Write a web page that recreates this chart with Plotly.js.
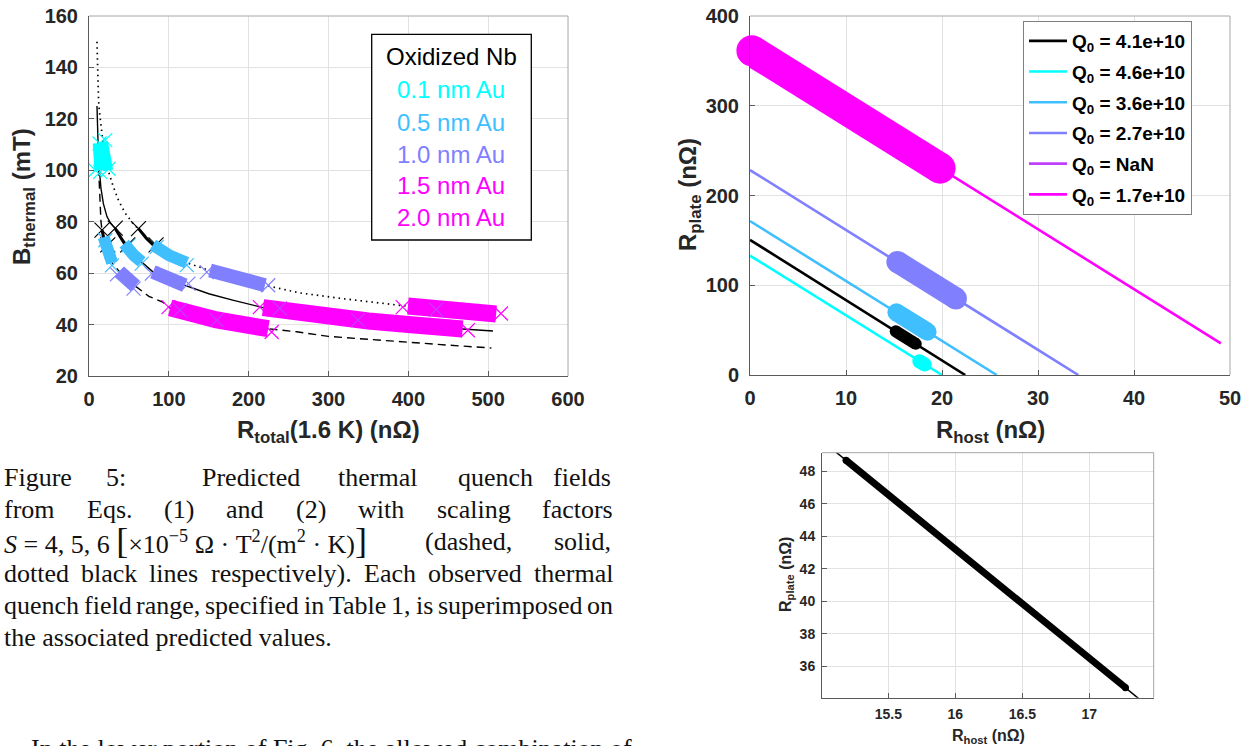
<!DOCTYPE html>
<html><head><meta charset="utf-8">
<script src="https://cdn.plot.ly/plotly-3.0.1.min.js"></script>
<style>html,body{margin:0;padding:0;background:#fff;}#chart{width:1246px;height:746px;}</style>
</head><body><div id="chart"></div>
<script>
const W = 1246, H = 746;
const PX = p => p / W, PY = p => 1 - p / H;
const SANS = 'Liberation Sans, Arial, Helvetica, sans-serif';
const SERIF = 'Liberation Serif, Times New Roman, serif';

// ---------- Left chart: predicted thermal quench field curves ----------
const dashedR = [12, 12.5, 13, 14, 15, 16.3, 18.3, 20, 22.5, 25, 29, 33, 37, 45, 58, 65, 75, 93, 101.6, 120, 160, 224.5, 260, 300, 350, 400, 450, 504];
const dashedB = [101, 96, 92, 86, 80, 76.7, 74, 72, 70.2, 67.5, 64, 62.5, 61, 58, 55, 53.3, 51, 48.6, 46.5, 44.5, 41.8, 38.4, 37.2, 35.4, 34.2, 33.2, 32, 30.9];
const solidR = [10, 10.5, 11, 12, 13, 15, 18, 22.5, 27, 32.9, 40, 47.5, 56, 66, 80, 100, 120, 150, 180, 218, 260, 300, 350, 400, 468, 506];
const solidB = [125, 116, 110, 104, 100, 93, 87, 82, 79.5, 77.3, 73.5, 70, 67, 64.4, 60.5, 57.5, 55.3, 52, 49.5, 46.6, 44.6, 43, 41.4, 40, 38.3, 37.5];
const dottedR = [10, 10.5, 11, 12, 13, 15, 17.5, 20, 24, 30, 37, 45, 55.8, 62, 72, 83, 100, 122.5, 151.6, 185, 220.4, 264, 320, 389, 450, 510];
const dottedB = [150, 140, 134, 127, 123, 117, 111, 106, 100, 94, 88.3, 83.5, 79, 77.3, 73.5, 70.2, 67, 64, 61, 58, 55.3, 52.3, 50, 47.5, 45.7, 44.1];

// Observed ranges superimposed on the curves
const cyanSolidR = [11, 12, 13], cyanSolidB = [110.5, 104, 100];
const cyanDotR = [17.5, 20, 24], cyanDotB = [111, 106, 100];
const oxDashR = [16.3, 18.3, 22.5], oxDashB = [76.7, 74, 70.2];
const oxSolidR = [32.9, 40, 47.5], oxSolidB = [77.3, 73.5, 70];
const oxDotR = [62, 72, 83], oxDotB = [77.3, 73.5, 70.2];
const lbDashR = [18.3, 20, 22.5, 25, 29], lbDashB = [74, 72, 70.2, 67.5, 64];
const lbSolidR = [44, 47.5, 56, 66], lbSolidB = [71.5, 70, 67, 64.4];
const lbDotR = [80, 83, 100, 122.5], lbDotB = [71, 70.2, 67, 64];
const periDashR = [38, 45, 58], periDashB = [60.5, 58, 55];
const periSolidR = [80, 100, 120], periSolidB = [60.5, 57.5, 55.3];
const periDotR = [151.6, 185, 220.4], periDotB = [61, 58, 55.3];
const magDashR = [101.6, 120, 160, 224.5], magDashB = [46.5, 44.5, 41.8, 38.4];
const magSolidR = [218, 260, 300, 350, 400, 468], magSolidB = [46.6, 44.6, 43, 41.4, 40, 38.3];
const magDotR = [399.5, 450, 510], magDotB = [47.2, 45.7, 44.1];

// Range end markers
const mkOxR = [16.3, 32.9, 62, 23.5, 48.5, 84], mkOxB = [76.7, 77.5, 77.3, 71, 71, 71];
const mkCyanR = [13.3, 20.4, 7.9, 14, 24.5], mkCyanB = [110.4, 111.7, 100, 99.4, 100.6];
const mkLbR = [20.4, 28.7, 49.6, 66, 85, 122.5], mkLbB = [72.8, 63, 70.8, 63.7, 70.2, 63.1];
const mkPeriR = [35, 55.8, 78.7, 124.5, 147.5, 224.5], mkPeriB = [59.5, 54, 59.8, 55.9, 60.4, 55.3];
const mkMagR = [99.6, 228.8, 214, 474.5, 393, 516], mkMagB = [46.8, 37.1, 46.8, 37.8, 46.8, 44.3];
const mkPurpR = [114, 160, 239, 337, 435], mkPurpB = [45.6, 41.7, 46.3, 41.7, 45.8];

const legendLabels = ['Oxidized Nb', '0.1 nm Au', '0.5 nm Au', '1.0 nm Au', '1.5 nm Au', '2.0 nm Au'];

// ---------- Right chart: R_plate vs R_host ----------
const q0Labels = ['Q<sub>0</sub> = 4.1e+10', 'Q<sub>0</sub> = 4.6e+10', 'Q<sub>0</sub> = 3.6e+10', 'Q<sub>0</sub> = 2.7e+10', 'Q<sub>0</sub> = NaN', 'Q<sub>0</sub> = 1.7e+10'];
const lineBlackHost = [0, 22.42], lineBlackPlate = [150.6, 0];
const lineCyanHost = [0, 20], lineCyanPlate = [133, 0];
const lineLbHost = [0, 25.7], lineLbPlate = [171.5, 0];
const linePeriHost = [0, 34.2], linePeriPlate = [228.3, 0];
const lineMagHost = [0, 49.05], lineMagPlate = [362.5, 35.3];
const bandMagHost = [0.2, 19.8], bandMagPlate = [361.2, 230.5];
const bandPeriHost = [15.35, 21.45], bandPeriPlate = [126.0, 85.3];
const bandLbHost = [15.25, 18.5], bandLbPlate = [69.8, 48.2];
const bandBlackHost = [15.18, 17.27], bandBlackPlate = [48.68, 34.69];
const bandCyanHost = [17.64, 18.2], bandCyanPlate = [15.4, 11.7];

// ---------- Bottom chart: zoom on the black range ----------
const zoomLineHost = [15.0, 17.5], zoomLinePlate = [49.92, 33.13];
const zoomBandHost = [15.184, 17.27], zoomBandPlate = [48.68, 34.69];

// colours
const C_BLACK = '#000000', C_CYAN = '#00FFFF', C_LB = 'rgb(64,191,255)', C_PERI = 'rgb(128,128,255)', C_PURP = 'rgb(191,64,255)', C_MAG = '#FF00FF';

const traces = [];
function curve(x, y, dash, w) { traces.push({x, y, xaxis: 'x', yaxis: 'y', mode: 'lines', line: {color: C_BLACK, width: w, dash}, showlegend: false, hoverinfo: 'skip'}); }
curve(dashedR, dashedB, '8px,5px', 1.4);
curve(solidR, solidB, 'solid', 1.4);
curve(dottedR, dottedB, '1.5px,4px', 1.7);
function marks(x, y, color, size) { traces.push({x, y, xaxis: 'x', yaxis: 'y', mode: 'markers', marker: {symbol: 'x-thin', size: size || 14, line: {color, width: 1.2}}, showlegend: false, hoverinfo: 'skip', cliponaxis: false}); }
function band(x, y, color, w) { traces.push({x, y, xaxis: 'x', yaxis: 'y', mode: 'lines', line: {color, width: w}, showlegend: false, hoverinfo: 'skip'}); }
marks(mkOxR, mkOxB, C_BLACK, 15);
marks(mkCyanR, mkCyanB, C_CYAN);
marks(mkLbR, mkLbB, C_LB);
marks(mkPeriR, mkPeriB, C_PERI);
marks(mkMagR, mkMagB, C_MAG);
band(oxDashR, oxDashB, C_BLACK, 3); band(oxSolidR, oxSolidB, C_BLACK, 3); band(oxDotR, oxDotB, C_BLACK, 3);
band(cyanSolidR, cyanSolidB, C_CYAN, 10); band(cyanDotR, cyanDotB, C_CYAN, 10);
band(lbDashR, lbDashB, C_LB, 12); band(lbSolidR, lbSolidB, C_LB, 12); band(lbDotR, lbDotB, C_LB, 12);
band(periDashR, periDashB, C_PERI, 14); band(periSolidR, periSolidB, C_PERI, 14); band(periDotR, periDotB, C_PERI, 14);
band(magDashR, magDashB, C_MAG, 17); band(magSolidR, magSolidB, C_MAG, 17); band(magDotR, magDotB, C_MAG, 17);
marks(mkPurpR, mkPurpB, C_PURP);

// right chart lines (legend order)
const rightLines = [
  [lineBlackHost, lineBlackPlate, C_BLACK],
  [lineCyanHost, lineCyanPlate, C_CYAN],
  [lineLbHost, lineLbPlate, C_LB],
  [linePeriHost, linePeriPlate, C_PERI],
  [[null], [null], C_PURP],
  [lineMagHost, lineMagPlate, C_MAG]
];
rightLines.forEach((l, i) => traces.push({x: l[0], y: l[1], xaxis: 'x2', yaxis: 'y2', mode: 'lines', name: q0Labels[i], legendgroup: 'g' + i, line: {color: l[2], width: 2.6}, showlegend: true, hoverinfo: 'skip'}));
function capBand(x, y, color, w, xa, ya) { traces.push({x, y, xaxis: xa, yaxis: ya, mode: 'lines+markers', line: {color, width: w}, marker: {size: w, color}, showlegend: false, hoverinfo: 'skip', cliponaxis: false}); }
capBand(bandMagHost, bandMagPlate, C_MAG, 31, 'x2', 'y2');
capBand(bandPeriHost, bandPeriPlate, C_PERI, 22, 'x2', 'y2');
capBand(bandLbHost, bandLbPlate, C_LB, 18, 'x2', 'y2');
capBand(bandBlackHost, bandBlackPlate, C_BLACK, 12, 'x2', 'y2');
capBand(bandCyanHost, bandCyanPlate, C_CYAN, 14, 'x2', 'y2');

traces.push({x: zoomLineHost, y: zoomLinePlate, xaxis: 'x3', yaxis: 'y3', mode: 'lines', line: {color: C_BLACK, width: 1.5}, showlegend: false, hoverinfo: 'skip'});
capBand(zoomBandHost, zoomBandPlate, C_BLACK, 7, 'x3', 'y3');

function ax(range, dtick, domain, anchor, fs, standoff) {
  return {range, dtick, tick0: 0, domain, anchor, showgrid: true, gridcolor: '#e2e2e2', gridwidth: 1, zeroline: false,
    showline: true, linecolor: '#5a5a5a', linewidth: 1, ticks: 'inside', ticklen: 5, tickcolor: '#5a5a5a',
    tickfont: {family: SANS, size: fs, color: '#262626', weight: 'bold'}, ticklabelstandoff: standoff, fixedrange: true, automargin: false};
}

const layout = {
  width: W, height: H, margin: {l: 0, r: 0, t: 0, b: 0}, paper_bgcolor: '#fff', plot_bgcolor: '#fff',
  xaxis: ax([0, 600], 100, [PX(89), PX(568)], 'y', 20, 5),
  yaxis: ax([20, 160], 20, [PY(376), PY(16)], 'x', 20, 6),
  xaxis2: ax([0, 50], 10, [PX(750), PX(1230)], 'y2', 20, 5),
  yaxis2: ax([0, 400], 100, [PY(375), PY(16)], 'x2', 20, 6),
  xaxis3: ax([15.005, 17.48], 0.5, [PX(822), PX(1153.7)], 'y3', 14, 3),
  yaxis3: ax([34.07, 49.15], 2, [PY(697.7), PY(452.7)], 'x3', 14, 3),
  showlegend: true,
  legend: {x: PX(1023), y: PY(21), xanchor: 'left', yanchor: 'top', bgcolor: '#fff', bordercolor: '#808080', borderwidth: 1,
    font: {family: SANS, size: 19, color: '#000', weight: 'bold'}, itemwidth: 38, tracegroupgap: 3, traceorder: 'grouped'},
  shapes: [], annotations: []
};

const boxes = [[89, 16, 568, 376], [750, 16, 1230, 375], [822, 452.7, 1153.7, 697.7]];
boxes.forEach(b => {
  layout.shapes.push({type: 'line', xref: 'paper', yref: 'paper', x0: PX(b[0]), x1: PX(b[2]), y0: PY(b[1]), y1: PY(b[1]), line: {color: '#a6a6a6', width: 1}});
  layout.shapes.push({type: 'line', xref: 'paper', yref: 'paper', x0: PX(b[2]), x1: PX(b[2]), y0: PY(b[1]), y1: PY(b[3]), line: {color: '#a6a6a6', width: 1}});
});
layout.shapes.push({type: 'rect', xref: 'paper', yref: 'paper', x0: PX(371.7), x1: PX(531.3), y0: PY(34.3), y1: PY(240), line: {color: '#000', width: 1.3}, fillcolor: '#fff', layer: 'above'});

const legendColors = ['#000000', C_CYAN, C_LB, C_PERI, C_MAG, C_MAG];
const legendY = [57, 90, 122, 154, 186, 218];
legendLabels.forEach((t, i) => layout.annotations.push({xref: 'paper', yref: 'paper', x: PX(451), y: PY(legendY[i]), xanchor: 'center', yanchor: 'middle', text: t, showarrow: false, font: {family: SANS, size: 24, color: legendColors[i]}}));

function title(text, xpx, ypx, fs, angle) {
  layout.annotations.push({xref: 'paper', yref: 'paper', x: PX(xpx), y: PY(ypx), xanchor: 'center', yanchor: 'middle', text: '<b>' + text + '</b>', textangle: angle || 0, showarrow: false, font: {family: SANS, size: fs, color: '#262626'}});
}
title('B<sub>thermal</sub> (mT)', 23, 197, 24, -90);
title('R<sub>total</sub>(1.6 K) (nΩ)', 328, 431, 24);
title('R<sub>plate</sub> (nΩ)', 689, 195, 24, -90);
title('R<sub>host</sub> (nΩ)', 990, 431, 24);
title('R<sub>plate</sub> (nΩ)', 786, 575, 16, -90);
title('R<sub>host</sub> (nΩ)', 988, 736, 16);

// ---------- caption text ----------
const CAP_FS = 26;
const measureCtx = document.createElement('canvas').getContext('2d');
measureCtx.font = CAP_FS + 'px "Liberation Serif"';
function capText(text, xpx, ypx, anchor) {
  layout.annotations.push({xref: 'paper', yref: 'paper', x: PX(xpx), y: PY(ypx), xanchor: anchor, yanchor: 'middle', text, showarrow: false, borderpad: 0, font: {family: SERIF, size: CAP_FS, color: '#111'}});
}
function justify(words, ypx, x0, x1) {
  const ws = words.map(w => measureCtx.measureText(w).width);
  const gap = (x1 - x0 - ws.reduce((a, b) => a + b, 0)) / (words.length - 1);
  let x = x0;
  words.forEach((w, i) => { capText(w, x, ypx, 'left'); x += ws[i] + gap; });
}
const big = s => "<span style='font-size:36px'>" + s + "</span>";
capText('Figure', 3, 477, 'left'); capText('5:', 116, 477, 'center'); capText('Predicted', 251, 477, 'center');
capText('thermal', 377, 477, 'center'); capText('quench', 495, 477, 'center'); capText('fields', 612, 477, 'right');
justify(['from', 'Eqs.', '(1)', 'and', '(2)', 'with', 'scaling', 'factors'], 509, 3, 612);
capText('<i>S</i> = 4, 5, 6 ' + big('[') + '×10<sup>−5</sup> Ω · T<sup>2</sup>/(m<sup>2</sup> · K)' + big(']'), 3, 541, 'left');
capText('(dashed,', 468, 541, 'center'); capText('solid,', 612, 541, 'right');
justify(['dotted', 'black', 'lines', 'respectively).', 'Each', 'observed', 'thermal'], 573, 3, 612);
justify(['quench', 'field', 'range,', 'specified', 'in', 'Table', '1,', 'is', 'superimposed', 'on'], 605, 3, 612);
capText('the associated predicted values.', 3, 637, 'left');
capText('In the lower portion of Fig. 6, the allowed combination of', 30, 748, 'left');

Plotly.newPlot('chart', traces, layout, {staticPlot: true, displayModeBar: false});
</script></body></html>
